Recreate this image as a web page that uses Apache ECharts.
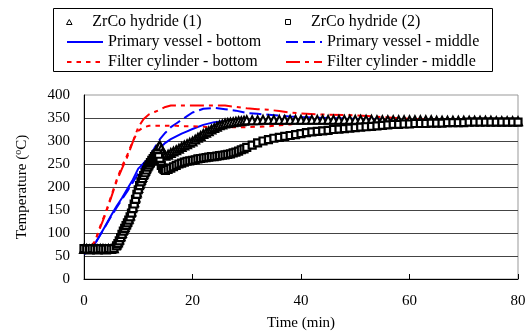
<!DOCTYPE html>
<html>
<head>
<meta charset="utf-8">
<script src="https://cdn.jsdelivr.net/npm/echarts@6.0.0/dist/echarts.min.js"></script>
<style>
  html, body { margin: 0; padding: 0; background: #fff; }
  #chart { width: 531px; height: 336px; }
</style>
</head>
<body>
<div id="chart"></div>
<script>
// time axis (min) for the two hydride marker series
const hydTime = [
  0, 0.5, 1, 1.5, 2, 2.5, 3, 3.5, 4, 4.5, 5, 5.5, 6,
  6.25, 6.5, 6.75, 7, 7.25, 7.5, 7.75, 8, 8.25, 8.5, 8.75, 9, 9.25, 9.5, 9.75, 10,
  10.25, 10.5, 10.75, 11, 11.25, 11.5, 11.75, 12, 12.25, 12.5, 12.75, 13, 13.25, 13.5, 13.75, 14,
  14.25, 14.5, 14.75, 15,
  15.5, 16, 16.5, 17, 17.5, 18, 18.5, 19, 19.5, 20, 20.5, 21, 21.5, 22, 22.5, 23, 23.5, 24, 24.5, 25,
  25.5, 26, 26.5, 27, 27.5, 28, 28.5, 29, 29.5, 30,
  31, 32, 33, 34, 35, 36, 37, 38, 39, 40, 41, 42, 43, 44, 45, 46, 47, 48, 49, 50,
  51, 52, 53, 54, 55, 56, 57, 58, 59, 60, 61, 62, 63, 64, 65, 66, 67, 68, 69, 70,
  71, 72, 73, 74, 75, 76, 77, 78, 79, 80
];

const hydride1 = [
  65, 65, 64, 65, 65, 64, 65, 65, 64, 65, 65, 67, 75,
  80, 86, 93, 100, 107, 113, 119, 125, 131, 138, 147, 157, 167, 177, 188, 198,
  207, 215, 222, 229, 235, 241, 247, 252, 257, 262, 267, 272, 277, 282, 287, 290,
  283, 275, 270, 268,
  270, 274, 277, 280, 283, 287, 290, 293, 296, 299, 303, 307, 311, 315, 318, 321, 325, 328, 331, 334,
  336, 338, 339, 340, 341, 342, 343, 343, 344, 345,
  345, 345, 346, 346, 346, 346, 346, 346, 346, 346, 346, 346, 346, 346, 346, 346, 346, 346, 346, 346,
  346, 346, 346, 345, 345, 345, 345, 345, 345, 345, 345, 345, 345, 345, 344, 344, 344, 344, 344, 344,
  344, 344, 344, 344, 344, 343, 343, 343, 343, 343
];

const hydride2 = [
  66, 65, 65, 66, 65, 65, 66, 65, 65, 66, 65, 66, 72,
  77, 83, 90, 97, 104, 110, 116, 122, 128, 135, 143, 153, 163, 173, 184, 194,
  203, 211, 218, 225, 231, 237, 243, 248, 253, 258, 262, 266, 270, 272, 266, 256,
  247, 241, 238, 236,
  238, 241, 244, 247, 250, 252, 254, 256, 257, 258, 259, 261, 262, 263, 264, 265, 266, 266, 267, 268,
  269, 270, 271, 272, 274, 276, 278, 281, 283, 286,
  291, 296, 300, 303, 306, 308, 310, 312, 314, 316, 318, 320, 321, 322, 323, 325, 326, 327, 328, 329,
  330, 331, 332, 333, 334, 335, 336, 336, 337, 337, 338, 338, 338, 339, 339, 339, 340, 340, 340, 340,
  341, 341, 341, 341, 341, 341, 341, 341, 341, 341
];

// time axis (min) for the thermocouple lines
const lineTime = [0, 1, 2, 3, 4, 5, 6, 7, 8, 9, 10, 11, 12, 13, 14, 15, 16, 17, 18, 19, 20,
  22, 24, 26, 28, 30, 32, 34, 36, 38, 40, 45, 50, 55, 60, 65, 70, 75, 80];

const vesselBottom = [54, 60, 76, 96, 117, 138, 158, 176, 196, 216, 240, 252, 263, 274, 285, 296, 304, 310, 316, 321, 326,
  335, 341, 343, 344, 344, 344, 344, 344, 344, 344, 344, 344, 343, 343, 342, 342, 341, 340];
const vesselMiddle = [58, 62, 76, 96, 116, 136, 155, 173, 191, 210, 230, 248, 265, 285, 304, 318, 330, 338, 346, 354, 362,
  370, 372, 369, 366, 361, 359, 357, 355, 353, 352, 350, 348, 346, 345, 344, 343, 343, 342];
const filterBottom = [65, 66, 80, 115, 145, 180, 215, 245, 270, 300, 322, 330, 333, 333, 333, 333, 333, 333, 332, 332, 332,
  331, 330, 330, 330, 330, 331, 332, 334, 336, 339, 342, 344, 345, 345, 345, 345, 345, 345];
const filterMiddle = [65, 67, 82, 112, 142, 177, 212, 240, 266, 298, 330, 348, 358, 363, 368, 374, 377, 377, 377, 377, 377,
  377, 377, 377, 374, 371, 369, 368, 365, 362, 360, 357, 356, 352, 348, 346, 346, 346, 346];

const xTicks = { min: 0, max: 80, step: 20 };
const yTicks = { min: 0, max: 400, step: 50 };

const FONT = "'Liberation Serif', 'Times New Roman', serif";
const pairs = (xs, ys) => xs.map((x, i) => [x, ys[i]]);

function lineSeries(name, color, type, values) {
  return {
    name,
    type: "line",
    symbol: "none",
    z: 2,
    lineStyle: { color, width: 2, type },
    itemStyle: { color },
    data: pairs(lineTime, values),
  };
}

function markerSeries(name, symbol, size, border, values) {
  return {
    name,
    type: "scatter",
    symbol,
    symbolSize: size,
    z: 3,
    itemStyle: { color: "#fff", borderColor: "#000", borderWidth: border, opacity: 1 },
    data: pairs(hydTime, values),
  };
}

const chart = echarts.init(document.getElementById("chart"), null, { renderer: "canvas" });

const legendText = { fontFamily: FONT, fontSize: 16, color: "#000", lineHeight: 16 };
const legendBase = { padding: 0, itemWidth: 36, textStyle: legendText, selectedMode: false };
const markerIcon = { color: "#fff", borderColor: "#000", borderWidth: 1 };

chart.setOption({
  animation: false,
  grid: {
    left: 84, right: 13, top: 95, bottom: 53,
    show: true, borderColor: "#999", borderWidth: 1,
  },
  graphic: [{
    type: "rect",
    shape: { x: 53.5, y: 8.5, width: 439, height: 63 },
    style: { fill: "none", stroke: "#000", lineWidth: 1 },
  }],
  legend: [
    Object.assign({}, legendBase, {
      data: [{ name: "ZrCo hydride (1)", icon: "path://M5,0L10,9L0,9Z", itemStyle: markerIcon }],
      left: 66, top: 14, itemHeight: 5, symbolKeepAspect: true,
    }),
    Object.assign({}, legendBase, {
      data: [{ name: "ZrCo hydride (2)", icon: "path://M0,0H10V10H0Z", itemStyle: markerIcon }],
      left: 285, top: 14, itemHeight: 5, symbolKeepAspect: true,
    }),
    Object.assign({}, legendBase, {
      data: ["Primary vessel - bottom", "Filter cylinder - bottom"], orient: "vertical",
      left: 66, top: 34, itemHeight: 14, itemGap: 4, itemStyle: { opacity: 0 },
    }),
    Object.assign({}, legendBase, {
      data: ["Primary vessel - middle", "Filter cylinder - middle"], orient: "vertical",
      left: 285, top: 34, itemHeight: 14, itemGap: 4, itemStyle: { opacity: 0 },
    }),
  ],
  xAxis: {
    type: "value",
    min: xTicks.min, max: xTicks.max, interval: xTicks.step,
    name: "Time (min)",
    nameLocation: "middle",
    nameGap: 37,
    nameTextStyle: { fontFamily: FONT, fontSize: 15, color: "#000" },
    axisLine: { show: true, lineStyle: { color: "#000", width: 1 } },
    axisTick: { show: true, inside: true, length: 5, lineStyle: { color: "#000" } },
    axisLabel: { fontFamily: FONT, fontSize: 15, color: "#000", margin: 15 },
    splitLine: { show: false },
  },
  yAxis: {
    type: "value",
    min: yTicks.min, max: yTicks.max, interval: yTicks.step,
    name: "Temperature ({sup|o}C)",
    nameLocation: "middle",
    nameRotate: 90,
    nameGap: 53,
    nameTextStyle: {
      fontFamily: FONT, fontSize: 15, color: "#000", lineHeight: 18,
      rich: { sup: { fontFamily: FONT, fontSize: 10, color: "#000", verticalAlign: "top", lineHeight: 18 } },
    },
    axisLine: { show: true, lineStyle: { color: "#000", width: 1 } },
    axisTick: { show: false },
    axisLabel: { fontFamily: FONT, fontSize: 15, color: "#000", margin: 14 },
    splitLine: { show: true, showMinLine: false, showMaxLine: false, lineStyle: { color: "#444", width: 1 } },
  },
  series: [
    lineSeries("Primary vessel - bottom", "#0000FF", "solid", vesselBottom),
    lineSeries("Primary vessel - middle", "#0000FF", [12, 5], vesselMiddle),
    lineSeries("Filter cylinder - bottom", "#FF0000", [4.5, 5], filterBottom),
    lineSeries("Filter cylinder - middle", "#FF0000", [14, 5, 4, 5], filterMiddle),
    markerSeries("ZrCo hydride (1)", "triangle", 8, 2, hydride1),
    markerSeries("ZrCo hydride (2)", "rect", 7, 2.2, hydride2),
  ],
});
</script>
</body>
</html>
